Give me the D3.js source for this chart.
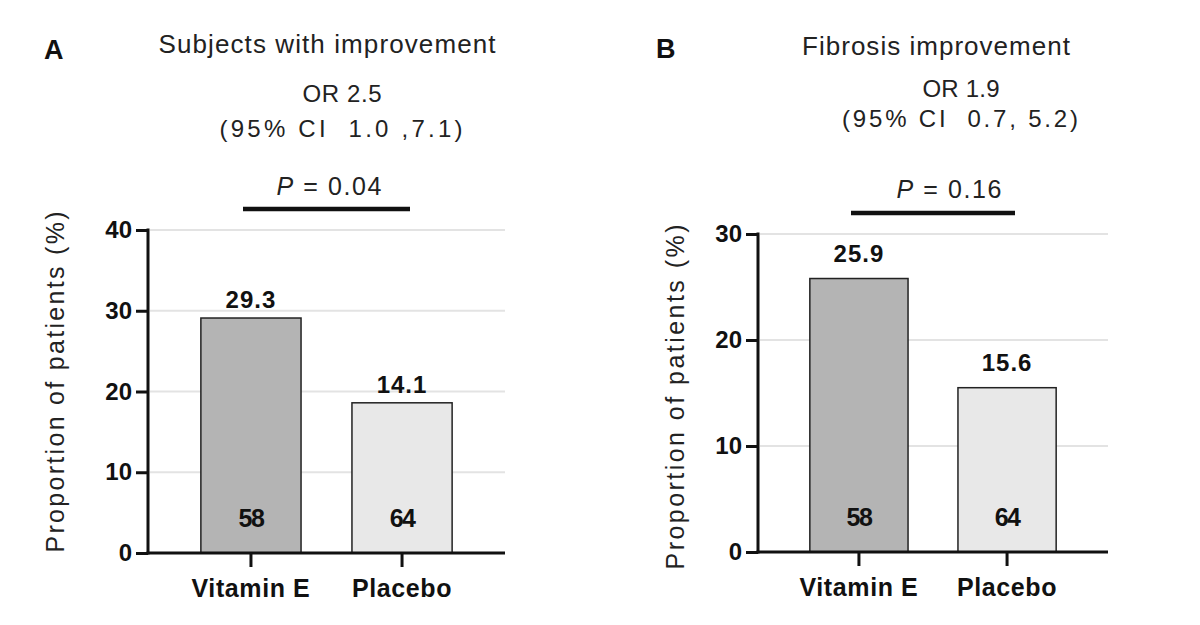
<!DOCTYPE html>
<html>
<head>
<meta charset="utf-8">
<script src="https://cdn.jsdelivr.net/npm/d3@7"></script>
<style>
  html, body { margin: 0; padding: 0; background: #fff; }
  svg { display: block; font-family: "Liberation Sans", Arial, Helvetica, sans-serif; }
</style>
</head>
<body>
<svg id="chart" width="1200" height="625"></svg>
<script>
// ---- data ----
const categories = ["Vitamin E", "Placebo"];
const countsN = [58, 64];
// Panel A: bar heights as drawn, and printed value labels
const valuesA = [29.1, 18.6];
const labelsA = ["29.3", "14.1"];
const ticksA = [0, 10, 20, 30, 40];
// Panel B
const valuesB = [25.8, 15.5];
const labelsB = ["25.9", "15.6"];
const ticksB = [0, 10, 20, 30];
// texts
const panelLetters = ["A", "B"];
const titles = ["Subjects with improvement", "Fibrosis improvement"];
const orTexts = ["OR 2.5", "OR 1.9"];
const ciTexts = ["(95% CI  1.0 ,7.1)", "(95% CI  0.7, 5.2)"];
const pTexts = ["0.04", "0.16"];
const yLabel = "Proportion of patients (%)";
const barColors = ["#b4b4b4", "#e8e8e8"];

const svg = d3.select("#chart");

const panels = [
  { values: valuesA, labels: labelsA, ticks: ticksA, max: 40,
    x0: 148, x1: 505, y0: 553, y1: 230, labelOff: 10,
    letter: [44, 59], title: [327, 53, 337], or: [342, 102, 79], ci: [341, 137, 243],
    p: [329, 195, 105], pline: [243, 410, 209], ylab: [64, 382, 341] },
  { values: valuesB, labels: labelsB, ticks: ticksB, max: 30,
    x0: 758, x1: 1108, y0: 552, y1: 234, labelOff: 17,
    letter: [656, 58], title: [936, 55, 268], or: [961, 97, 77], ci: [960, 127, 236],
    p: [949, 198, 105], pline: [851, 1015, 213], ylab: [684, 397, 345] }
];

panels.forEach((P, pi) => {
  const g = svg.append("g");
  const x = d3.scaleBand().domain(categories).range([P.x0, P.x1])
    .paddingInner(0.337).paddingOuter(0.35);
  const y = d3.scaleLinear().domain([0, P.max]).range([P.y0, P.y1]);

  // gridlines
  g.append("g").selectAll("line").data(P.ticks.filter(t => t > 0)).join("line")
    .attr("x1", P.x0 + 2).attr("x2", P.x1)
    .attr("y1", d => y(d)).attr("y2", d => y(d))
    .attr("stroke", "#e3e3e3").attr("stroke-width", 2);

  // bars
  g.append("g").selectAll("rect").data(P.values).join("rect")
    .attr("x", (d, i) => x(categories[i]))
    .attr("width", x.bandwidth())
    .attr("y", d => y(d))
    .attr("height", d => y(0) - y(d))
    .attr("fill", (d, i) => barColors[i])
    .attr("stroke", "#222").attr("stroke-width", 1.5);

  // value labels
  g.append("g").selectAll("text").data(P.labels).join("text")
    .attr("x", (d, i) => x(categories[i]) + x.bandwidth() / 2)
    .attr("y", (d, i) => y(P.values[i]) - P.labelOff)
    .attr("text-anchor", "middle")
    .attr("font-size", 24).attr("font-weight", "bold").attr("letter-spacing", 1)
    .attr("fill", "#111")
    .text(d => d);

  // counts
  g.append("g").selectAll("text").data(countsN).join("text")
    .attr("x", (d, i) => x(categories[i]) + x.bandwidth() / 2)
    .attr("y", P.y0 - 26)
    .attr("text-anchor", "middle")
    .attr("font-size", 25).attr("font-weight", "bold").attr("letter-spacing", -1.5)
    .attr("fill", "#111")
    .text(d => d);

  // y axis
  const yAxis = d3.axisLeft(y).tickValues(P.ticks).tickSize(12).tickPadding(4).tickSizeOuter(0);
  const ya = g.append("g").attr("transform", `translate(${P.x0},0)`).call(yAxis);
  ya.select(".domain").attr("stroke", "#111").attr("stroke-width", 3)
    .attr("d", `M0,${P.y0 + 1.5}V${P.y1 - 1.5}`);
  ya.selectAll(".tick line").attr("stroke", "#111").attr("stroke-width", 3);
  ya.selectAll(".tick text").attr("font-size", 24).attr("font-weight", "bold")
    .attr("fill", "#111").attr("font-family", "Liberation Sans, Arial, sans-serif");

  // x axis
  const xAxis = d3.axisBottom(x).tickSize(14).tickPadding(12).tickSizeOuter(0);
  const xa = g.append("g").attr("transform", `translate(0,${P.y0})`).call(xAxis);
  xa.select(".domain").attr("stroke", "#111").attr("stroke-width", 3)
    .attr("d", `M${P.x0 - 1.5},0H${P.x1}`);
  xa.selectAll(".tick line").attr("stroke", "#111").attr("stroke-width", 3);
  xa.selectAll(".tick text").attr("font-size", 25).attr("font-weight", "bold")
    .attr("letter-spacing", 0.6).attr("fill", "#111")
    .attr("font-family", "Liberation Sans, Arial, sans-serif");

  // y label
  g.append("text")
    .attr("transform", `translate(${P.ylab[0]},${P.ylab[1]}) rotate(-90)`)
    .attr("text-anchor", "middle")
    .attr("font-size", 25).attr("fill", "#222")
    .attr("textLength", P.ylab[2]).attr("lengthAdjust", "spacing")
    .text(yLabel);

  // panel letter
  g.append("text").attr("x", P.letter[0]).attr("y", P.letter[1])
    .attr("font-size", 27).attr("font-weight", "bold").attr("fill", "#111")
    .text(panelLetters[pi]);

  // title
  g.append("text").attr("x", P.title[0]).attr("y", P.title[1])
    .attr("text-anchor", "middle").attr("font-size", 26).attr("fill", "#222")
    .attr("textLength", P.title[2]).attr("lengthAdjust", "spacing")
    .text(titles[pi]);

  // OR
  g.append("text").attr("x", P.or[0]).attr("y", P.or[1])
    .attr("text-anchor", "middle").attr("font-size", 24).attr("fill", "#222")
    .attr("textLength", P.or[2]).attr("lengthAdjust", "spacing")
    .text(orTexts[pi]);

  // CI
  g.append("text").attr("x", P.ci[0]).attr("y", P.ci[1])
    .attr("text-anchor", "middle").attr("font-size", 24).attr("fill", "#222")
    .attr("xml:space", "preserve").style("white-space", "pre")
    .attr("textLength", P.ci[2]).attr("lengthAdjust", "spacing")
    .text(ciTexts[pi]);

  // P value
  const pt = g.append("text").attr("x", P.p[0]).attr("y", P.p[1])
    .attr("text-anchor", "middle").attr("font-size", 25).attr("fill", "#222")
    .attr("textLength", P.p[2]).attr("lengthAdjust", "spacing");
  pt.append("tspan").attr("font-style", "italic").text("P");
  pt.append("tspan").text(" = " + pTexts[pi]);

  // significance line
  g.append("line")
    .attr("x1", P.pline[0]).attr("x2", P.pline[1])
    .attr("y1", P.pline[2]).attr("y2", P.pline[2])
    .attr("stroke", "#111").attr("stroke-width", 4.5);
});
</script>
</body>
</html>
